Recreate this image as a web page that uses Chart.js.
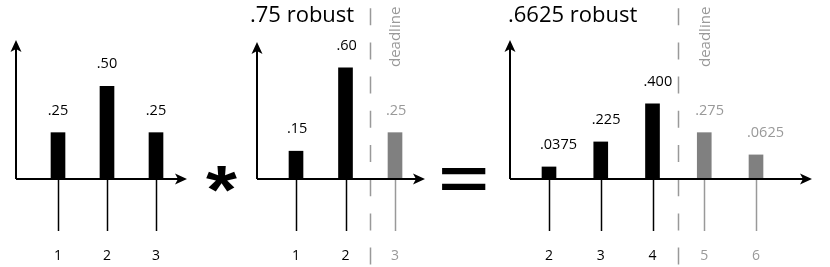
<!DOCTYPE html>
<html>
<head>
<meta charset="utf-8">
<script src="https://cdn.jsdelivr.net/npm/chart.js@4.4.1/dist/chart.umd.min.js"></script>
<style>
  html, body { margin: 0; padding: 0; background: #fff; }
  #wrap { position: relative; width: 830px; height: 267px; overflow: hidden; }
  canvas { position: absolute; top: 0; }
</style>
</head>
<body>
<div id="wrap">
  <canvas id="c1" width="200" height="267" style="left:0px"></canvas>
  <canvas id="c2" width="230" height="267" style="left:200px"></canvas>
  <canvas id="c3" width="400" height="267" style="left:430px"></canvas>
</div>
<script>
// panel 1: the starting distribution
const ticks1 = [1, 2, 3];
const heights1 = [0.25, 0.5, 0.25];
const valueText1 = ['.25', '.50', '.25'];

// panel 2: the ".75 robust" factor, deadline after 2
const ticks2 = [1, 2, 3];
const heights2 = [0.15, 0.6, 0.25];
const valueText2 = ['.15', '.60', '.25'];
const deadline2 = 2.5;

// panel 3: the result, deadline after 4
// (bar heights as drawn in the picture, not exactly to scale with the labels)
const ticks3 = [2, 3, 4, 5, 6];
const heights3 = [0.065, 0.2, 0.405, 0.25, 0.13];
const valueText3 = ['.0375', '.225', '.400', '.275', '.0625'];
const deadline3 = 4.5;

const title2 = '.75 robust';
const title3 = '.6625 robust';

const BLACK = '#000';
const GRAY_BAR = '#808080';
const GRAY = '#999';
const FONT = '"Open Sans", "Noto Sans", sans-serif';

function fitGlyph(ctx, ch, font, box) {
  ctx.save();
  ctx.font = font;
  ctx.textAlign = 'left';
  ctx.textBaseline = 'alphabetic';
  const m = ctx.measureText(ch);
  const gw = m.actualBoundingBoxLeft + m.actualBoundingBoxRight;
  const gh = m.actualBoundingBoxAscent + m.actualBoundingBoxDescent;
  ctx.translate(box.x, box.y);
  ctx.scale(box.w / gw, box.h / gh);
  ctx.fillStyle = BLACK;
  ctx.fillText(ch, m.actualBoundingBoxLeft, m.actualBoundingBoxAscent);
  ctx.restore();
}

// draws arrows, stems, labels, title, deadline and the operator sign
const diagram = {
  id: 'diagram',
  afterDatasetsDraw(chart, args, opts) {
    const ctx = chart.ctx;
    const area = chart.chartArea;
    const xs = chart.scales.x;
    const meta = chart.getDatasetMeta(0);
    const ticks = opts.ticks;
    const late = v => opts.deadline != null && v > opts.deadline;
    const base = area.bottom;
    const axisTop = opts.axisTop || area.top;

    ctx.save();

    // deadline line and its caption
    if (opts.deadline != null) {
      const dx = Math.round(xs.getPixelForValue(opts.deadline)) + 0.5;
      ctx.strokeStyle = GRAY;
      ctx.lineWidth = 1.5;
      ctx.setLineDash([17, 17.2]);
      ctx.lineDashOffset = 26;
      ctx.beginPath();
      ctx.moveTo(dx, 0);
      ctx.lineTo(dx, chart.height);
      ctx.stroke();
      ctx.setLineDash([]);

      const firstLate = ticks.find(late);
      ctx.save();
      ctx.translate(xs.getPixelForValue(firstLate) + 1, 67);
      ctx.rotate(-Math.PI / 2);
      ctx.fillStyle = GRAY;
      ctx.font = '15px ' + FONT;
      ctx.textAlign = 'left';
      ctx.textBaseline = 'middle';
      ctx.fillText('deadline', 0, 0);
      ctx.restore();
    }

    // stems under the axis
    ticks.forEach((t, i) => {
      const x = Math.round(xs.getPixelForValue(t)) + 0.5;
      ctx.strokeStyle = late(t) ? GRAY : BLACK;
      ctx.lineWidth = 1.5;
      ctx.beginPath();
      ctx.moveTo(x, base);
      ctx.lineTo(x, base + 52);
      ctx.stroke();
    });

    // axes with arrow heads
    ctx.strokeStyle = BLACK;
    ctx.fillStyle = BLACK;
    ctx.lineWidth = 2;
    ctx.beginPath();
    ctx.moveTo(area.left, base);
    ctx.lineTo(area.right - 6, base);
    ctx.moveTo(area.left, base);
    ctx.lineTo(area.left, axisTop + 6);
    ctx.stroke();

    ctx.beginPath();
    ctx.moveTo(area.right, base);
    ctx.lineTo(area.right - 12, base - 5.5);
    ctx.lineTo(area.right - 9, base);
    ctx.lineTo(area.right - 12, base + 5.5);
    ctx.closePath();
    ctx.fill();

    ctx.beginPath();
    ctx.moveTo(area.left, axisTop);
    ctx.lineTo(area.left - 5.5, axisTop + 12);
    ctx.lineTo(area.left, axisTop + 9);
    ctx.lineTo(area.left + 5.5, axisTop + 12);
    ctx.closePath();
    ctx.fill();

    // tick labels
    ctx.font = '14px ' + FONT;
    ctx.textAlign = 'center';
    ctx.textBaseline = 'middle';
    ticks.forEach(t => {
      ctx.fillStyle = late(t) ? GRAY : BLACK;
      ctx.fillText(String(t), xs.getPixelForValue(t), 256);
    });

    // value labels above bars
    ctx.font = '14.5px ' + FONT;
    ctx.textBaseline = 'alphabetic';
    meta.data.forEach((bar, i) => {
      ctx.fillStyle = late(ticks[i]) ? GRAY : BLACK;
      if (opts.labelAlign === 'left') {
        ctx.textAlign = 'left';
        ctx.fillText(opts.values[i], bar.x - bar.width / 2 - 2, bar.y - 18);
      } else {
        ctx.textAlign = 'center';
        ctx.fillText(opts.values[i], bar.x, bar.y - 18);
      }
    });

    // title
    if (opts.title) {
      ctx.fillStyle = BLACK;
      ctx.font = '22px ' + FONT;
      ctx.textAlign = 'left';
      ctx.fillText(opts.title, opts.titleX, 22);
    }

    // operator sign in front of the panel
    if (opts.operator) {
      fitGlyph(ctx, opts.operator.ch, 'bold 100px "Liberation Sans", Arial, sans-serif', opts.operator.box);
    }

    ctx.restore();
  }
};

function makePanel(id, ticks, heights, values, setup) {
  const late = v => setup.deadline != null && v > setup.deadline;
  return new Chart(document.getElementById(id), {
    type: 'bar',
    data: {
      datasets: [{
        data: ticks.map((t, i) => ({ x: t, y: heights[i] })),
        backgroundColor: ticks.map(t => late(t) ? GRAY_BAR : BLACK),
        barThickness: 14,
        borderWidth: 0
      }]
    },
    options: {
      responsive: false,
      animation: false,
      events: [],
      layout: { padding: setup.padding },
      plugins: {
        legend: { display: false },
        tooltip: { enabled: false },
        diagram: {
          ticks: ticks,
          values: values,
          deadline: setup.deadline,
          title: setup.title,
          titleX: setup.titleX,
          axisTop: setup.axisTop,
          labelAlign: setup.labelAlign,
          operator: setup.operator
        }
      },
      scales: {
        x: { type: 'linear', min: setup.xMin, max: setup.xMax, offset: false, display: false },
        y: { min: 0, max: 0.75, display: false }
      }
    },
    plugins: [diagram]
  });
}

makePanel('c1', ticks1, heights1, valueText1, {
  padding: { left: 16, right: 13, top: 40, bottom: 88 },
  xMin: 0.1429, xMax: 3.6327,
  labelAlign: 'center'
});

makePanel('c2', ticks2, heights2, valueText2, {
  padding: { left: 57, right: 5, top: 40, bottom: 88 },
  xMin: 0.2121, xMax: 3.606,
  axisTop: 42,
  deadline: deadline2,
  title: title2, titleX: 50,
  labelAlign: 'left',
  operator: { ch: '*', box: { x: 6, y: 166, w: 31, h: 26 } }
});

makePanel('c3', ticks3, heights3, valueText3, {
  padding: { left: 80, right: 18, top: 40, bottom: 88 },
  xMin: 1.2464, xMax: 7.082,
  deadline: deadline3,
  title: title3, titleX: 78,
  labelAlign: 'left',
  operator: { ch: '=', box: { x: 12, y: 168, w: 44, h: 22 } }
});
</script>
</body>
</html>
